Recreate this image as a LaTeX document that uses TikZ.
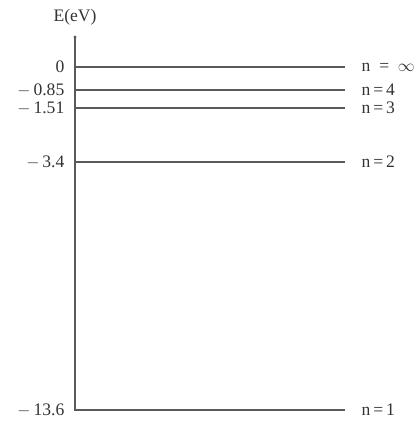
\documentclass[tikz,border=0pt]{standalone}
\usepackage{fontspec}
\setmainfont{Liberation Serif}
\begin{document}
\begin{tikzpicture}[x=0.025cm,y=-0.025cm,every node/.style={font=\fontsize{12.5}{14}\selectfont,text=black!80,inner sep=1pt},
  lv/.style={line width=1.3pt,draw=black!65},
  ax/.style={line width=2pt,draw=black!65}]
\useasboundingbox (0,0) rectangle (415,423);
\def\xa{75}\def\xb{345}
%------------- energy axis
\coordinate (top) at (\xa,37);
\coordinate (bot) at (\xa,411);
\draw[ax] (top) -- (bot);
\fill[black!65] (top) circle (1.6);
\node (E) at (\xa,17) {E(eV)};
%------------- levels: y / energy / n
\foreach \y/\e/\n/\i in {67/{0}/{n\ \ =\ \ $\infty$}/inf, 90/{$-$\,0.85}/{n\,=\,4}/4,
    108/{$-$\,1.51}/{n\,=\,3}/3, 162/{$-$\,3.4}/{n\,=\,2}/2, 410/{$-$\,13.6}/{n\,=\,1}/1}{
  \coordinate (a\i) at (\xa,\y);
  \coordinate (b\i) at (\xb,\y);
  \draw[lv] (a\i) -- (b\i);
  \node[anchor=east] (e\i) at (66,\y) {\e};
  \node[anchor=west] (n\i) at (360,\y) {\n};
}
\end{tikzpicture}
\end{document}
